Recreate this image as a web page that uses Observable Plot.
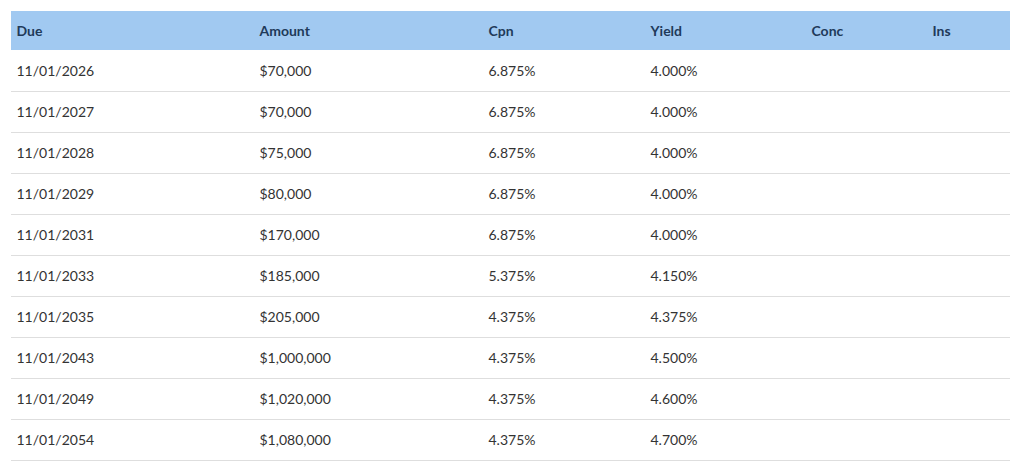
<!DOCTYPE html>
<html>
<head>
<meta charset="utf-8">
<script src="https://cdn.jsdelivr.net/npm/d3@7"></script>
<script src="https://cdn.jsdelivr.net/npm/@observablehq/plot@0.6"></script>
<style>
  body { margin: 0; background: #fff; }
</style>
</head>
<body>
<div id="chart"></div>
<script>
const columns = ["Due", "Amount", "Cpn", "Yield", "Conc", "Ins"];
const due = ["11/01/2026", "11/01/2027", "11/01/2028", "11/01/2029", "11/01/2031", "11/01/2033", "11/01/2035", "11/01/2043", "11/01/2049", "11/01/2054"];
const amount = ["$70,000", "$70,000", "$75,000", "$80,000", "$170,000", "$185,000", "$205,000", "$1,000,000", "$1,020,000", "$1,080,000"];
const cpn = ["6.875%", "6.875%", "6.875%", "6.875%", "6.875%", "5.375%", "4.375%", "4.375%", "4.375%", "4.375%"];
const yieldVals = ["4.000%", "4.000%", "4.000%", "4.000%", "4.000%", "4.150%", "4.375%", "4.500%", "4.600%", "4.700%"];
const conc = ["", "", "", "", "", "", "", "", "", ""];
const ins = ["", "", "", "", "", "", "", "", "", ""];

const colData = [due, amount, cpn, yieldVals, conc, ins];
const rows = due.map((d, i) => i);
const cells = [];
rows.forEach(i => colData.forEach((col, j) => cells.push({row: i, col: j, value: col[i]})));
const headers = columns.map((c, j) => ({col: j, value: c}));

// column layout (table column start positions)
const colScale = d3.scaleLinear().domain([0, 1, 2, 3, 4, 5]).range([16, 259, 488, 650, 811, 932]);

const chart = Plot.plot({
  width: 1020,
  height: 471,
  marginLeft: 11,
  marginRight: 10,
  marginTop: 9,
  marginBottom: 11,
  style: {background: "#fff", fontFamily: "Lato, sans-serif"},
  x: {type: "identity", axis: null},
  y: {axis: null, domain: [-1, rows.length], range: [9, 460]},
  marks: [
    Plot.rect([0], {y1: -1, y2: 0, fill: "#a1c9f1", insetTop: 2}),
    Plot.ruleY(rows, {y: d => d + 1, stroke: "#dedede", strokeWidth: 1}),
    Plot.text(headers, {x: d => colScale(d.col), y: -0.5, dy: 1.5, text: "value", textAnchor: "start", fontSize: 14, fontWeight: "bold", fill: "#1f3a5a"}),
    Plot.text(cells, {x: d => colScale(d.col), y: d => d.row + 0.5, dy: 1, text: "value", textAnchor: "start", fontSize: 14, fill: "#333"})
  ]
});
document.getElementById("chart").append(chart);
</script>
</body>
</html>
